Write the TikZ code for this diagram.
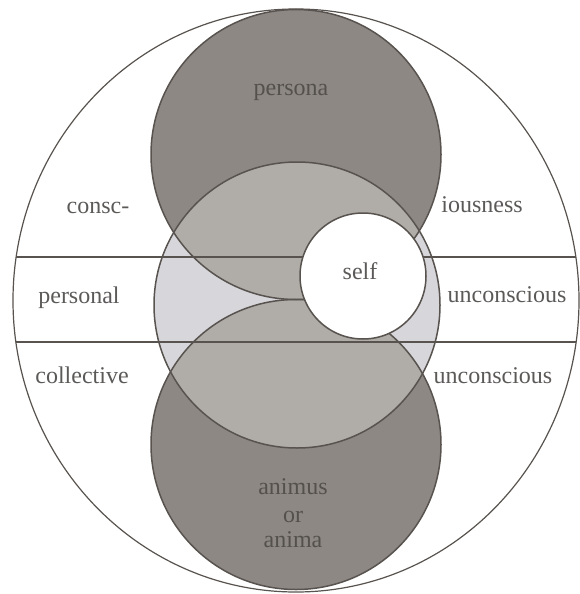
\documentclass[tikz,border=0pt]{standalone}
\usepackage{fontspec}
\setmainfont{Liberation Serif}
\definecolor{darkg}{RGB}{141,136,131}
\definecolor{medg}{RGB}{176,173,169}
\definecolor{lightg}{RGB}{214,214,219}
\definecolor{edge}{RGB}{88,83,78}
\definecolor{txt}{RGB}{92,90,88}
\definecolor{txtd}{RGB}{84,80,76}
\begin{document}
\begin{tikzpicture}[x=1pt,y=-1pt,line join=round,
  ring/.style={draw=edge,line width=1.5pt},
  outer/.style={draw=edge,line width=1.2pt},
  band/.style={draw=edge,line width=1.5pt},
  lbl/.style={text=txt,font=\fontsize{24}{28}\selectfont,anchor=base,inner sep=0pt},
  lbld/.style={lbl,text=txtd}]
\useasboundingbox (0,0) rectangle (580,594);
% fills
\fill[darkg] (296,154.5) circle[radius=145];
\fill[darkg] (296,444.5) circle[radius=145];
\fill[lightg] (297,305) circle[radius=143];
\begin{scope}
  \clip (297,305) circle[radius=143];
  \fill[medg] (296,154.5) circle[radius=145];
  \fill[medg] (296,444.5) circle[radius=145];
\end{scope}
% outlines
\draw[outer] (296,300.5) ellipse[x radius=283, y radius=291.5];
\draw[ring] (296,154.5) circle[radius=145];
\draw[ring] (296,444.5) circle[radius=145];
\draw[ring] (297,305) circle[radius=143];
% band lines
\begin{scope}
  \clip (296,300.5) ellipse[x radius=283, y radius=291.5];
  \draw[band] (0,257) -- (580,257);
  \draw[band] (0,342) -- (580,342);
\end{scope}
% self
\draw[ring,fill=white] (363,276) circle[radius=63];
% labels
\node[lbld] (persona) at (291,95) {persona};
\node[lbl] (consc) at (98,213.5) {consc-};
\node[lbl] (iousness) at (482,212.5) {iousness};
\node[lbl] (personal) at (79,303.5) {personal};
\node[lbl] (unc1) at (507,302.5) {unconscious};
\node[lbl] (collective) at (82,383.5) {collective};
\node[lbl] (unc2) at (493,383.5) {unconscious};
\node[lbl] (self) at (360,279) {self};
\node[lbld] (animus) at (293,494.5) {animus};
\node[lbld] (or) at (293,522) {or};
\node[lbld] (anima) at (293,547.5) {anima};
\end{tikzpicture}
\end{document}
